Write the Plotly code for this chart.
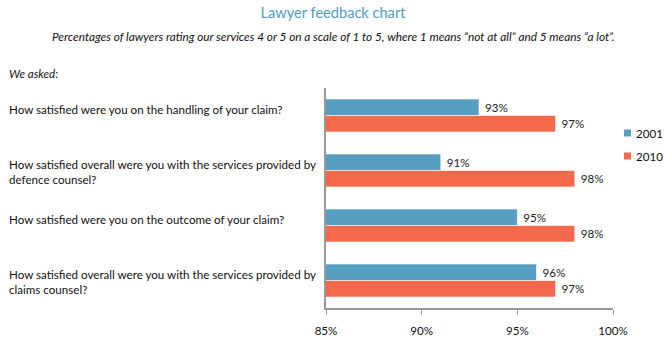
import plotly.graph_objects as go

# Survey questions (top to bottom) and results per year
questions = [
    "How satisfied were you on the handling of your claim?",
    "How satisfied overall were you with the services provided by<br>defence counsel?",
    "How satisfied were you on the outcome of your claim?",
    "How satisfied overall were you with the services provided by<br>claims counsel?",
]
years = ["2001", "2010"]
values_2001 = [93, 91, 95, 96]
values_2010 = [97, 98, 98, 97]
tick_values = [85, 90, 95, 100]
tick_labels = ["85%", "90%", "95%", "100%"]

colors = {"2001": "#579fc2", "2010": "#f2694c"}
FONT = "Lato"
FS = 11.6

W, H = 666, 345
M_L, M_R, M_T, M_B = 326, 53, 88, 37
plot_w = W - M_L - M_R
plot_h = H - M_T - M_B


def px_x(px):
    """Pixel column -> paper x."""
    return (px - M_L) / plot_w


def px_y(py):
    """Pixel row -> paper y."""
    return 1 - (py - M_T) / plot_h


positions = list(range(len(questions)))

fig = go.Figure()
for year, vals in zip(years, [values_2001, values_2010]):
    fig.add_trace(go.Bar(
        y=positions,
        x=vals,
        orientation="h",
        name=year,
        marker=dict(color=colors[year], line=dict(color="rgba(255,255,255,0.6)", width=1)),
        text=[f" {v}%" for v in vals],
        textposition="outside",
        textfont=dict(family=FONT, size=FS, color="#222"),
        cliponaxis=False,
        showlegend=False,
        hoverinfo="skip",
    ))

# Legend: small square swatches with the year beside them
for k, year in enumerate(years):
    cy = 133 + 23 * k
    fig.add_shape(type="rect", xref="paper", yref="paper",
                  x0=px_x(624), x1=px_x(631), y0=px_y(cy + 3.5), y1=px_y(cy - 3.5),
                  fillcolor=colors[year], line=dict(width=0))
    fig.add_annotation(x=px_x(634), xref="paper", y=px_y(cy), yref="paper",
                       text=year, showarrow=False, xanchor="left", yanchor="middle",
                       font=dict(family=FONT, size=FS, color="#111"))

# Question labels, left aligned in the margin
for i, q in enumerate(questions):
    fig.add_annotation(
        x=px_x(7), xref="paper", y=i, yref="y",
        text=q, showarrow=False, xanchor="left", yanchor="middle",
        align="left", yshift=6 if "<br>" not in q else -1,
        font=dict(family=FONT, size=FS, color="#111"),
    )

fig.add_annotation(
    x=px_x(7), xref="paper", y=px_y(74), yref="paper",
    text="<i>We asked:</i>", showarrow=False, xanchor="left", yanchor="middle",
    font=dict(family=FONT, size=FS, color="#111"),
)

fig.add_annotation(
    x=px_x(W / 2), xref="paper", y=px_y(36), yref="paper",
    text="<i>Percentages of lawyers rating our services 4 or 5 on a scale of 1 to 5, where 1 means \u201cnot at all\u201d and 5 means \u201ca lot\u201d.</i>",
    showarrow=False, xanchor="center", yanchor="middle",
    font=dict(family=FONT, size=11.8, color="#111"),
)

fig.update_layout(
    width=W, height=H,
    margin=dict(l=M_L, r=M_R, t=M_T, b=M_B, autoexpand=False),
    paper_bgcolor="white", plot_bgcolor="white",
    showlegend=False,
    title=dict(text="Lawyer feedback chart", x=0.5, xref="container",
               xanchor="center", y=1 - 13 / H, yanchor="middle",
               font=dict(family=FONT, size=14.6, color="#4f9cc4")),
    barmode="group", bargap=0.4, bargroupgap=0,
    xaxis=dict(range=[85, 100], tickvals=tick_values, ticktext=tick_labels,
               showgrid=False, zeroline=False, showline=True, linecolor="#999",
               linewidth=1.5, ticks="outside", ticklen=5, tickcolor="#999",
               ticklabelstandoff=6,
               tickfont=dict(family=FONT, size=FS, color="#111")),
    yaxis=dict(range=[3.5, -0.5], showticklabels=False, showgrid=False,
               zeroline=False, showline=True, linecolor="#999", linewidth=1.5, ticks=""),
)

fig.write_html("out.html")
